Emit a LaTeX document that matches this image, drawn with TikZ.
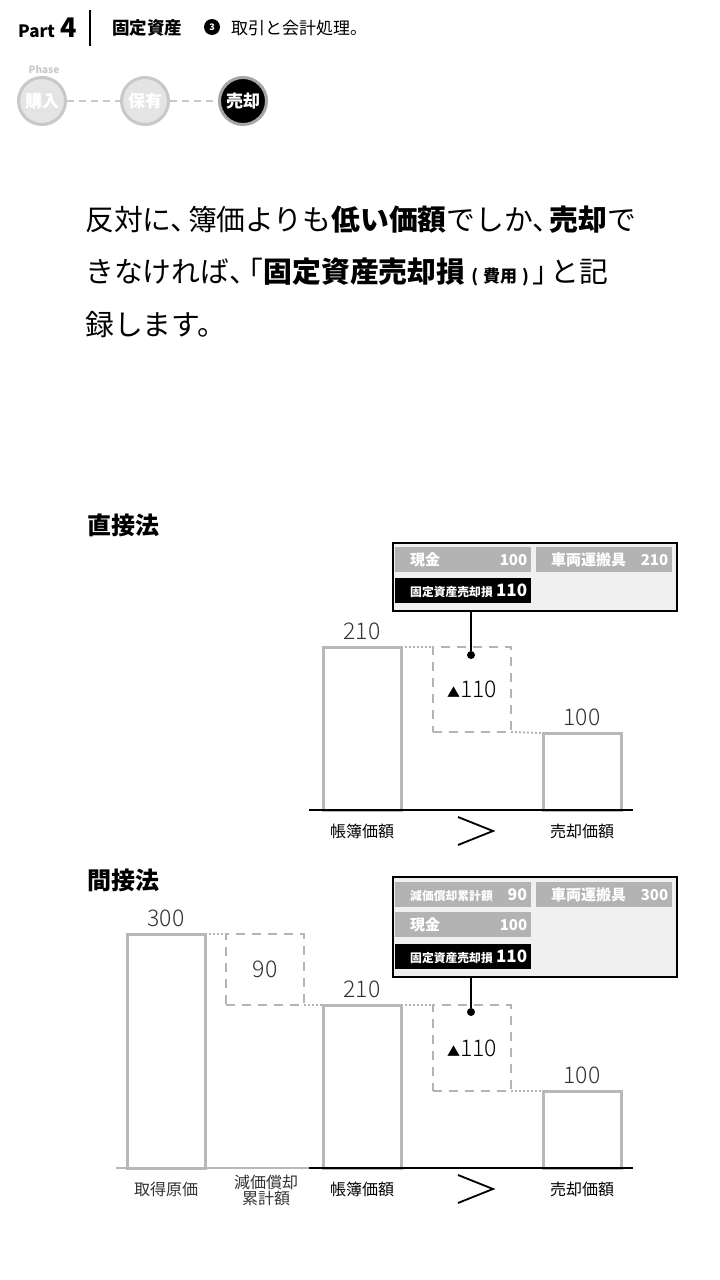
\documentclass[tikz,border=0pt]{standalone}
\usepackage{fontspec}
\setmainfont{Noto Sans CJK JP}
\newfontfamily\numfont{Noto Sans CJK JP Light}
\usetikzlibrary{positioning}

\definecolor{barline}{HTML}{B8B8B8}
\definecolor{dashgray}{HTML}{B4B4B4}
\definecolor{cellgray}{HTML}{B3B3B3}
\definecolor{boxfill}{HTML}{F0F0F0}
\definecolor{phasefill}{HTML}{E4E4E4}
\definecolor{phaseline}{HTML}{C8C8C8}
\definecolor{txtgray}{HTML}{333333}

\newcommand{\fsz}[1]{\fontsize{#1}{#1}\selectfont}
\newcommand{\tou}{、\kern-.4em}

\tikzset{
  bar/.style = {draw = barline, line width = 3pt, anchor = south west, minimum width = 78pt, inner sep = 0pt, outer sep = 0pt},
  lossbox/.style = {draw = dashgray, line width = 2.5pt, dash pattern = on 9pt off 7pt, minimum width = 78pt, anchor = north west, inner sep = 0pt, outer sep = 0pt},
  dotline/.style = {draw = dashgray, line width = 2pt, dash pattern = on 2pt off 2pt},
  val/.style = {inner sep = 0pt, text = txtgray, font = \numfont\fsz{23}},
  barcap/.style = {inner sep = 0pt, font = \fsz{16}},
  jbox/.style = {draw = black, line width = 2pt, fill = boxfill, anchor = north west, minimum width = 284pt, inner sep = 0pt},
  cellg/.style = {fill = cellgray, text = white, anchor = north west, minimum height = 25pt, text width = 128pt, inner xsep = 4pt, inner ysep = 0pt, font = \bfseries\fsz{15}},
  cellb/.style = {cellg, fill = black},
  dot/.style = {circle, fill = black, inner sep = 0pt, minimum size = 8pt},
  link/.style = {draw = black, line width = 2pt},
  phase/.style = {circle, draw = phaseline, fill = phasefill, line width = 3pt, minimum size = 47pt, inner sep = 0pt, text = white, font = \bfseries\fsz{17}},
  phaselink/.style = {draw = phaseline, line width = 2.5pt, dash pattern = on 7pt off 5pt},
  bodyline/.style = {anchor = west, inner sep = 0pt, font = \fsz{28.8}}
}

\begin{document}
\begin{tikzpicture}[x = 1pt, y = 1pt]
  \useasboundingbox[fill = white] (0, 0) rectangle (720, -1280);

  % header
  \node[anchor = west, inner sep = 0pt, font = \bfseries] (part) at (18, -28) {{\fsz{17}Part}\hspace{5pt}{\fsz{27}4}};
  \draw[line width = 1.2pt] (90, -10) -- (90, -46);
  \node[anchor = west, inner sep = 0pt, font = \bfseries\fsz{17.5}] (chap) at (112, -28) {固定資産};
  \node[circle, fill = black, text = white, minimum size = 16pt, inner sep = 0pt, font = \bfseries\fsz{9}] (num) at (212, -27) {3};
  \node[anchor = west, inner sep = 0pt, font = \fsz{17}] (sect) at (231, -28) {取引と会計処理。};

  % phase
  \node[phase] (p1) at (42, -101) {購入};
  \node[phase] (p2) at (145, -101) {保有};
  \node[phase, fill = black, draw = gray!70] (p3) at (243, -101) {売却};
  \draw[phaselink] (p1) -- (p2);
  \draw[phaselink] (p2) -- (p3);
  \node[inner sep = 0pt, text = phaseline, font = \bfseries\fsz{10}] (tag) at (44, -70) {Phase};

  % body text
  \node[bodyline] (l1) at (85, -220) {反対に\tou 簿価よりも\textbf{低い価額}でしか\tou\textbf{売却}で};
  \node[bodyline] (l2) at (85, -272) {きなければ\tou\kern-.4em「\textbf{固定資産売却損}{\bfseries\fsz{17}\hspace{6pt}(\hspace{5pt}費用\hspace{5pt})\hspace{4pt}}」\kern-.4em と記};
  \node[bodyline] (l3) at (85, -325) {録します。};

  % direct method
  \node[anchor = west, inner sep = 0pt, font = \bfseries\fsz{24}] (h1) at (87, -525) {直接法};

  \node[jbox, minimum height = 68pt] (j1) at (392, -542) {};
  \node[cellg] (j1a) at (395, -547) {\hspace*{11pt}現金\hfill 100};
  \node[cellg] (j1b) at (536, -547) {\hspace*{11pt}車両運搬具\hfill 210};
  \node[cellb] (j1c) at (395, -578) {\hspace*{11pt}{\fsz{11.8}固定資産売却損}\hfill{\fsz{17}110}};

  \node[bar, minimum height = 163pt] (bv1) at (323, -810) {};
  \node[lossbox, minimum height = 85pt] (loss1) at (433, -647) {};
  \node[bar, minimum height = 77pt] (sp1) at (543, -810) {};
  \node[val, above = 7pt of bv1] (bv1v) {210};
  \node[val, text = black] (loss1v) at (loss1.center) {{\fsz{13}▲}110};
  \node[val, above = 7pt of sp1] (sp1v) {100};
  \node[dot] (d1) at (471, -655) {};
  \draw[link] (d1 |- j1.south) -- (d1);
  \draw[dotline] (bv1.north east) -- (loss1.north west);
  \draw[dotline] (loss1.south east) -- (sp1.north west);
  \draw[line width = 2.5pt] (309, -810) -- (633, -810);
  \node[barcap, below = 14pt of bv1] (bv1c) {帳簿価額};
  \node[barcap, below = 14pt of sp1] (sp1c) {売却価額};
  \draw[line width = 1.8pt] (458, -817) -- (493, -831) -- (458, -845);

  % indirect method
  \node[anchor = west, inner sep = 0pt, font = \bfseries\fsz{24}] (h2) at (87, -880) {間接法};

  \node[jbox, minimum height = 100pt] (j2) at (392, -876) {};
  \node[cellg] (j2a) at (395, -882) {\hspace*{11pt}{\fsz{11.8}減価償却累計額}\hfill{\fsz{16}90}};
  \node[cellg] (j2b) at (536, -882) {\hspace*{11pt}車両運搬具\hfill 300};
  \node[cellg] (j2c) at (395, -912) {\hspace*{11pt}現金\hfill 100};
  \node[cellb] (j2d) at (395, -944) {\hspace*{11pt}{\fsz{11.8}固定資産売却損}\hfill{\fsz{17}110}};

  \node[bar, minimum height = 234pt] (cost2) at (127, -1168) {};
  \node[lossbox, minimum height = 71pt] (dep2) at (226, -934) {};
  \node[bar, minimum height = 163pt] (bv2) at (323, -1168) {};
  \node[lossbox, minimum height = 86pt] (loss2) at (433, -1005) {};
  \node[bar, minimum height = 77pt] (sp2) at (543, -1168) {};
  \node[val, above = 7pt of cost2] (cost2v) {300};
  \node[val] (dep2v) at (dep2.center) {90};
  \node[val, above = 7pt of bv2] (bv2v) {210};
  \node[val, text = black] (loss2v) at (loss2.center) {{\fsz{13}▲}110};
  \node[val, above = 7pt of sp2] (sp2v) {100};
  \node[dot] (d2) at (471, -1012) {};
  \draw[link] (d2 |- j2.south) -- (d2);
  \draw[dotline] (cost2.north east) -- (dep2.north west);
  \draw[dotline] (dep2.south east) -- (bv2.north west);
  \draw[dotline] (bv2.north east) -- (loss2.north west);
  \draw[dotline] (loss2.south east) -- (sp2.north west);
  \draw[line width = 2.5pt, barline] (116, -1168) -- (309, -1168);
  \draw[line width = 2.5pt] (309, -1168) -- (633, -1168);
  \node[barcap, text = txtgray, below = 14pt of cost2] (cost2c) {取得原価};
  \node[barcap, text = txtgray, align = center] (dep2c) at (266, -1190) {減価償却\\累計額};
  \node[barcap, below = 14pt of bv2] (bv2c) {帳簿価額};
  \node[barcap, below = 14pt of sp2] (sp2c) {売却価額};
  \draw[line width = 1.8pt] (458, -1175) -- (493, -1189) -- (458, -1203);
\end{tikzpicture}
\end{document}
